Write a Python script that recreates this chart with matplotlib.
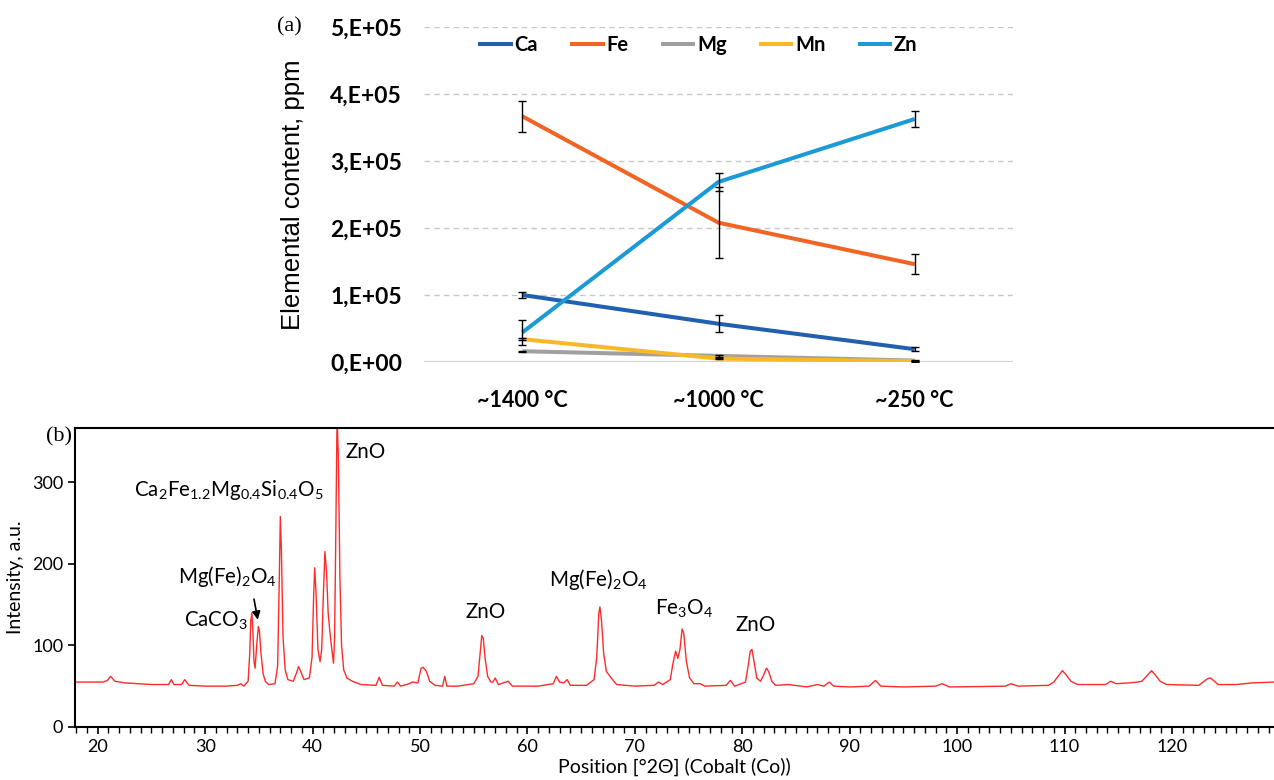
import matplotlib
matplotlib.use("Agg")
import matplotlib.pyplot as plt

# (a) elemental content along the temperature zones
zones = ["~1400 °C", "~1000 °C", "~250 °C"]
elements = ["Ca", "Fe", "Mg", "Mn", "Zn"]
ca = [1.00e5, 0.57e5, 0.19e5]
fe = [3.67e5, 2.08e5, 1.46e5]
mg = [0.16e5, 0.09e5, 0.02e5]
mn = [0.34e5, 0.05e5, 0.01e5]
zn = [0.44e5, 2.69e5, 3.63e5]
ca_err = [0.05e5, 0.13e5, 0.03e5]
fe_err = [0.23e5, 0.53e5, 0.15e5]
mg_err = [0.01e5, 0.01e5, 0.005e5]
mn_err = [0.01e5, 0.01e5, 0.005e5]
zn_err = [0.19e5, 0.13e5, 0.125e5]
conc_ticks = [0, 1e5, 2e5, 3e5, 4e5, 5e5]
conc_tick_labels = ["0,E+00", "1,E+05", "2,E+05", "3,E+05", "4,E+05", "5,E+05"]

# (b) XRD pattern
two_theta = [
    17.9, 19.0, 20.5, 20.9, 21.2, 21.6, 22.5, 25.0, 26.6, 26.85, 27.1, 27.8, 28.1, 28.5,
    30.0, 32.0, 33.0, 33.3, 33.6, 34.0, 34.15, 34.25, 34.35, 34.45, 34.55, 34.65, 34.8, 34.95,
    35.05, 35.2, 35.4, 35.6, 35.9, 36.5, 36.75, 36.9, 37.0, 37.1, 37.25, 37.45, 37.7, 38.2,
    38.5, 38.7, 38.9, 39.2, 39.7, 39.95, 40.1, 40.2, 40.32, 40.5, 40.7, 40.85, 41.0, 41.15,
    41.3, 41.45, 41.6, 41.75, 41.95, 42.05, 42.15, 42.28, 42.4, 42.55, 42.7, 42.9, 43.2, 43.7,
    44.5, 45.9, 46.2, 46.5, 47.6, 47.9, 48.2, 49.0, 49.3, 49.8, 50.1, 50.3, 50.6, 50.9,
    51.4, 52.1, 52.3, 52.5, 53.5, 55.0, 55.4, 55.6, 55.75, 55.9, 56.05, 56.3, 56.6, 56.8,
    57.0, 57.3, 58.0, 58.2, 58.6, 61.0, 62.4, 62.7, 63.0, 63.4, 63.7, 64.0, 65.5, 66.2,
    66.45, 66.65, 66.75, 66.9, 67.1, 67.35, 67.8, 68.3, 70.0, 71.8, 72.2, 72.6, 73.3, 73.55,
    73.8, 74.0, 74.2, 74.4, 74.55, 74.8, 75.1, 75.5, 76.1, 76.5, 78.5, 78.9, 79.3, 80.3,
    80.55, 80.75, 80.9, 81.1, 81.35, 81.7, 82.0, 82.25, 82.45, 82.75, 83.1, 84.3, 86.0, 87.0,
    87.6, 88.1, 88.5, 90.0, 91.8, 92.4, 92.9, 95.0, 98.0, 98.6, 99.3, 104.5, 105.0, 105.7,
    108.5, 109.0, 109.4, 109.8, 110.2, 110.6, 111.2, 113.8, 114.3, 114.8, 116.0, 116.8, 117.2, 117.7,
    118.1, 118.5, 118.9, 119.5, 122.5, 123.3, 123.6, 124.3, 126.0, 127.5, 129.5,
]
intensity = [
    55, 55, 55, 57, 62, 56, 54, 52, 52, 58, 52, 52, 58, 51,
    50, 50, 51, 53, 50, 56, 90, 130, 140, 115, 80, 72, 100, 123,
    118, 90, 65, 56, 52, 53, 75, 180, 258, 215, 110, 70, 58, 56,
    66, 74, 68, 58, 60, 85, 160, 195, 165, 95, 80, 95, 160, 215,
    190, 140, 118, 100, 78, 110, 220, 380, 330, 180, 100, 70, 60, 56,
    52, 51, 61, 51, 50, 55, 50, 53, 55, 54, 72, 73, 68, 56,
    51, 50, 62, 50, 50, 53, 62, 90, 112, 108, 85, 62, 55, 55,
    60, 52, 55, 56, 50, 50, 53, 62, 55, 54, 58, 51, 51, 58,
    85, 140, 147, 130, 90, 68, 60, 52, 50, 51, 55, 52, 58, 78,
    93, 84, 95, 120, 115, 80, 60, 53, 53, 50, 51, 57, 50, 55,
    75, 93, 95, 80, 60, 56, 64, 72, 68, 56, 51, 52, 49, 52,
    50, 55, 50, 49, 50, 57, 50, 49, 50, 53, 49, 50, 53, 50,
    51, 55, 62, 69, 63, 56, 52, 52, 56, 53, 54, 55, 56, 63,
    69, 63, 56, 52, 51, 59, 60, 52, 52, 54, 55,
]

# phase labels: text, 2theta, intensity (left edge, vertical centre)
phase_labels = [
    ("ZnO", 43.1, 337),
    (r"Ca$_\mathregular{2}$Fe$_\mathregular{1.2}$Mg$_\mathregular{0.4}$Si$_\mathregular{0.4}$O$_\mathregular{5}$", 23.4, 290),
    (r"Mg(Fe)$_\mathregular{2}$O$_\mathregular{4}$", 27.5, 184),
    (r"CaCO$_\mathregular{3}$", 28.0, 130),
    ("ZnO", 54.2, 141),
    (r"Mg(Fe)$_\mathregular{2}$O$_\mathregular{4}$", 62.0, 181),
    (r"Fe$_\mathregular{3}$O$_\mathregular{4}$", 71.9, 145),
    ("ZnO", 79.4, 125),
]

colors = ["#2160ae", "#f26424", "#a0a0a0", "#fbb826", "#1b9ad6"]
series = [ca, fe, mg, mn, zn]
errors = [ca_err, fe_err, mg_err, mn_err, zn_err]

fig = plt.figure(figsize=(12.74, 7.80), dpi=100)

# ---- panel (a)
ax1 = fig.add_axes([0.333, 0.536, 0.462, 0.429])
xs = range(len(zones))
for name, vals, c in zip(elements, series, colors):
    ax1.plot(xs, vals, color=c, lw=2.9, label=name, solid_capstyle="butt", zorder=2)
for vals, err in zip(series, errors):
    ax1.errorbar(xs, vals, yerr=err, fmt="none", ecolor="black", elinewidth=1,
                 capsize=3, capthick=1, zorder=3)
ax1.set_xlim(-0.5, 2.5)
ax1.set_ylim(0, 5e5)
ax1.set_yticks(conc_ticks)
ax1.set_yticklabels(conc_tick_labels, fontsize=16.5, fontweight="bold", family="Lato")
ax1.set_xticks(list(xs))
ax1.set_xticklabels(zones, fontsize=15.5, fontweight="bold", family="Lato")
ax1.tick_params(axis="y", length=0, pad=16)
ax1.tick_params(axis="x", length=0, pad=20)
for y in conc_ticks[1:]:
    ax1.axhline(y, color="#c8c8c8", lw=1, ls=(0, (4, 3)), zorder=0)
ax1.axhline(0, color="#d0d0d0", lw=1.5, zorder=0)
for s in ax1.spines.values():
    s.set_visible(False)
ax1.set_ylabel("Elemental content, ppm", fontsize=18.5, family="Liberation Sans", labelpad=18)
ax1.legend(loc="center", bbox_to_anchor=(0.465, 0.946), ncol=5, frameon=False,
           handlelength=1.7, handletextpad=0.1, columnspacing=1.6,
           prop={"family": "Lato", "weight": "bold", "size": 14.5})
fig.text(0.2175, 0.965, "(a)", fontsize=16, family="Liberation Serif", va="center")

# ---- panel (b)
ax2 = fig.add_axes([0.059, 0.068, 0.941, 0.383])
ax2.plot(two_theta, intensity, color="#ff2a2a", lw=1.0)
ax2.set_xlim(17.9, 129.5)
ax2.set_ylim(0, 366)
ax2.set_xticks(range(20, 130, 10))
ax2.set_xticks(range(18, 130), minor=True)
ax2.set_yticks([0, 100, 200, 300])
ax2.tick_params(which="major", direction="out", length=5, width=1.2, labelsize=13)
ax2.tick_params(which="minor", direction="out", length=4, width=1.0)
for lab in ax2.get_xticklabels() + ax2.get_yticklabels():
    lab.set_family("Lato")
ax2.spines["right"].set_visible(False)
for k in ["left", "bottom", "top"]:
    ax2.spines[k].set_linewidth(1.5)
ax2.set_xlabel("Position [°2Θ] (Cobalt (Co))", fontsize=14, family="Lato", labelpad=2)
ax2.set_ylabel("Intensity, a.u.", fontsize=14, family="Lato", labelpad=6)
for text, x, y in phase_labels:
    ax2.text(x, y, text, fontsize=14.8, family="Lato", va="center", ha="left")
ax2.annotate("", xy=(34.95, 128), xytext=(34.5, 160),
             arrowprops=dict(arrowstyle="-|>", color="black", lw=1.2, mutation_scale=12))
fig.text(0.036, 0.44, "(b)", fontsize=16, family="Liberation Serif", va="center")

fig.savefig("out.png", dpi=100)
